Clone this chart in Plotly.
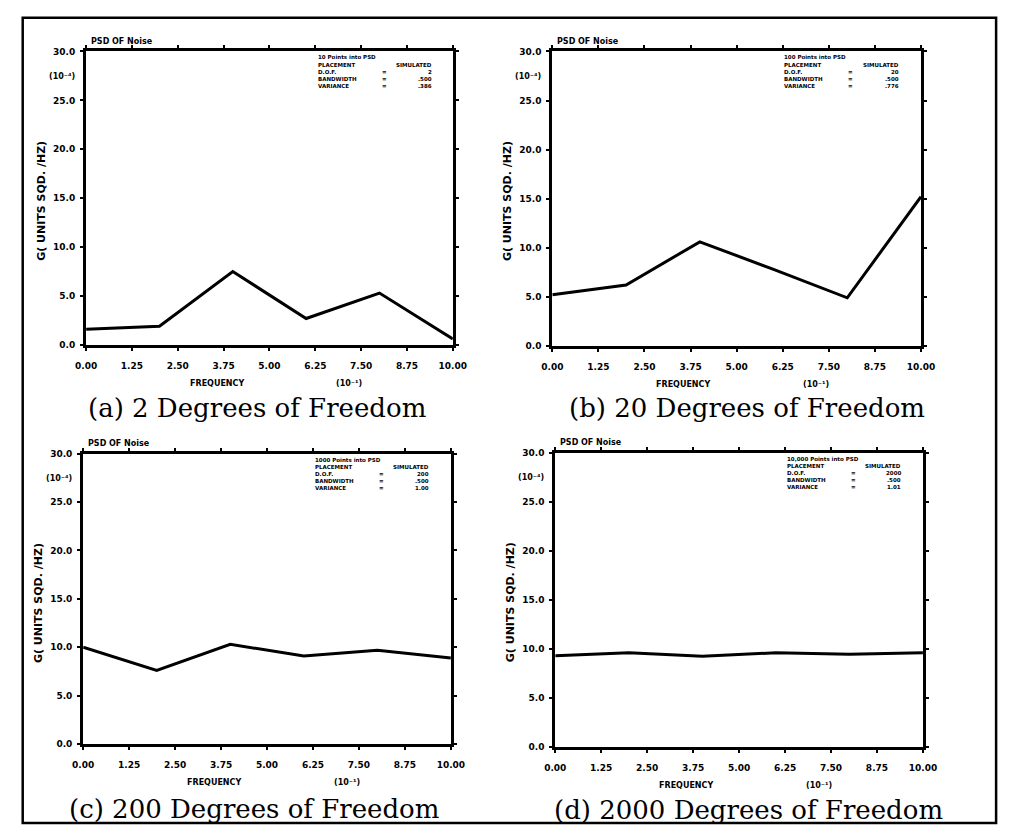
import plotly.graph_objects as go

# ---------------- data ----------------
freq = [0.0, 2.0, 4.0, 6.0, 8.0, 10.0]
psd_dof2 = [1.6, 1.9, 7.5, 2.7, 5.3, 0.6]
psd_dof20 = [5.2, 6.2, 10.6, 7.8, 4.9, 15.2]
psd_dof200 = [10.0, 7.6, 10.3, 9.1, 9.7, 8.9]
psd_dof2000 = [9.3, 9.6, 9.25, 9.6, 9.45, 9.6]

x_ticks = [0.0, 1.25, 2.5, 3.75, 5.0, 6.25, 7.5, 8.75, 10.0]
x_ticklabels = ["0.00", "1.25", "2.50", "3.75", "5.00", "6.25", "7.50", "8.75", "10.00"]
y_ticks = [0, 5, 10, 15, 20, 25, 30]
y_ticklabels = ["0.0", "5.0", "10.0", "15.0", "20.0", "25.0", "30.0"]

captions = ["(a) 2 Degrees of Freedom", "(b) 20 Degrees of Freedom",
            "(c) 200 Degrees of Freedom", "(d) 2000 Degrees of Freedom"]
points_text = ["10 Points into PSD", "100 Points into PSD",
               "1000 Points into PSD", "10,000 Points into PSD"]
dof_text = ["2", "20", "200", "2000"]
bandwidth_text = [".500", ".500", ".500", ".500"]
variance_text = [".386", ".776", "1.00", "1.01"]
series = [psd_dof2, psd_dof20, psd_dof200, psd_dof2000]

# ---------------- layout geometry (pixels) ----------------
W, H = 1014, 837
panels = [  # left, top, right, bottom
    (77, 47, 453, 344),
    (555, 47, 933, 345),
    (74, 454, 451, 748),
    (558, 453, 935, 751),
]
cap_pos = [(252, 408), (755, 408), (249, 814), (756, 815)]


def px(x):
    return x / W


def py(y):
    return 1 - y / H


fig = go.Figure()
small = dict(family="DejaVu Sans", size=8, color="black", weight="bold")
info = dict(family="DejaVu Sans", size=5.5, color="black", weight="bold")
annotations = []
shapes = []

for i, (l, t, r, b) in enumerate(panels):
    n = "" if i == 0 else str(i + 1)
    fig.add_trace(go.Scatter(x=freq, y=series[i], mode="lines",
                             line=dict(color="black", width=3),
                             xaxis="x" + n, yaxis="y" + n, showlegend=False,
                             cliponaxis=False))
    axcommon = dict(showgrid=False, zeroline=False, showline=True,
                    linecolor="black", linewidth=3, mirror="ticks",
                    ticks="outside", ticklen=3, tickwidth=2, tickcolor="black",
                    tickfont=dict(family="DejaVu Sans", size=9, color="black", weight="bold"))
    fig.update_layout(**{
        "xaxis" + n: dict(domain=[px(l), px(r)], anchor="y" + n, range=[0, 10],
                          tickvals=x_ticks, ticktext=x_ticklabels,
                          ticklabelstandoff=7, **axcommon),
        "yaxis" + n: dict(domain=[py(b), py(t)], anchor="x" + n, range=[0, 30],
                          tickvals=y_ticks, ticktext=y_ticklabels,
                          ticklabelstandoff=3, **axcommon),
    })
    # panel title
    annotations.append(dict(x=px(l + 3), y=py(t - 10), xref="paper", yref="paper",
                            text="PSD OF Noise", showarrow=False, xanchor="left",
                            yanchor="middle", font=small))
    # info block
    lines = [(points_text[i], "", ""),
             ("PLACEMENT", "", "SIMULATED"),
             ("D.O.F.", "=", dof_text[i]),
             ("BANDWIDTH", "=", bandwidth_text[i]),
             ("VARIANCE", "=", variance_text[i])]
    for k, (a, eq, v) in enumerate(lines):
        yy = t + 6 + k * 7.3
        annotations.append(dict(x=px(l + 236), y=py(yy), xref="paper", yref="paper",
                                text=a, showarrow=False, xanchor="left",
                                yanchor="middle", font=info))
        if eq:
            annotations.append(dict(x=px(l + 306), y=py(yy), xref="paper", yref="paper",
                                    text=eq, showarrow=False, xanchor="center",
                                    yanchor="middle", font=info))
        if v:
            annotations.append(dict(x=px(l + 357), y=py(yy), xref="paper", yref="paper",
                                    text=v, showarrow=False, xanchor="right",
                                    yanchor="middle", font=info))
    # y exponent
    annotations.append(dict(x=px(l - 25), y=py(t + 25), xref="paper", yref="paper",
                            text="(10⁻⁴)", showarrow=False, xanchor="center",
                            yanchor="middle", font=small))
    # y title
    annotations.append(dict(x=px(l - 46), y=py(t + 151), xref="paper", yref="paper",
                            text="G( UNITS SQD. /HZ)", showarrow=False, textangle=-90,
                            xanchor="center", yanchor="middle",
                            font=dict(family="DejaVu Sans", size=11, color="black", weight="bold")))
    # x title
    annotations.append(dict(x=px(l + 134), y=py(b + 39), xref="paper", yref="paper",
                            text="FREQUENCY", showarrow=False, xanchor="center",
                            yanchor="middle", font=small))
    annotations.append(dict(x=px(l + 270), y=py(b + 39), xref="paper", yref="paper",
                            text="(10⁻¹)", showarrow=False, xanchor="center",
                            yanchor="middle", font=small))
    # caption
    cx, cy = cap_pos[i]
    annotations.append(dict(x=px(cx), y=py(cy), xref="paper", yref="paper",
                            text=captions[i], showarrow=False, xanchor="center",
                            yanchor="middle",
                            font=dict(family="DejaVu Serif", size=26, color="black")))

# outer frame
shapes.append(dict(type="rect", xref="paper", yref="paper",
                   x0=px(12), x1=px(1010), y0=py(828), y1=py(13),
                   line=dict(color="black", width=2.5)))

fig.update_layout(width=W, height=H, margin=dict(l=0, r=0, t=0, b=0),
                  paper_bgcolor="white", plot_bgcolor="white",
                  annotations=annotations, shapes=shapes, showlegend=False)

fig.write_html("out.html")
